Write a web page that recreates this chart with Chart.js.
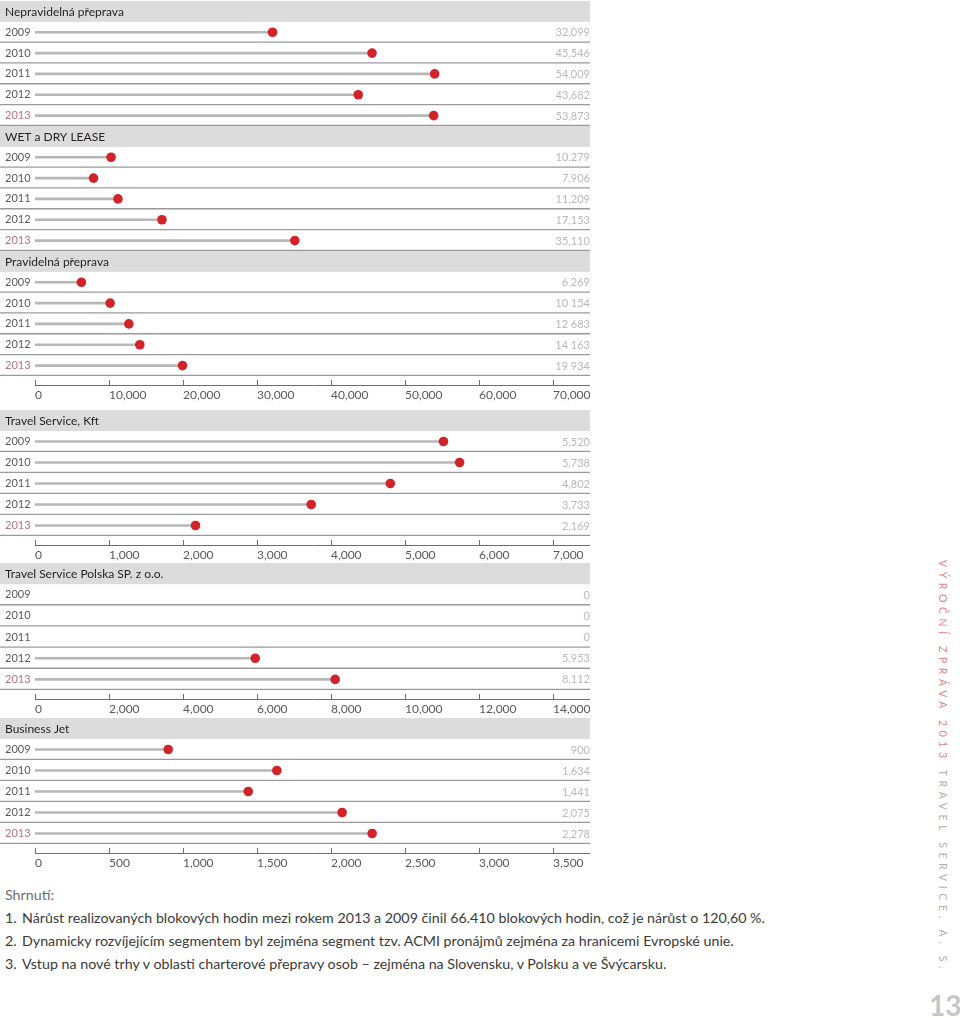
<!DOCTYPE html>
<html lang="cs">
<head>
<meta charset="UTF-8">
<title>Blokové hodiny 2009–2013</title>
<script src="https://cdn.jsdelivr.net/npm/chart.js"></script>
<style>
  body { margin: 0; background: #fff; font-family: Lato, "Open Sans", sans-serif; }
  #page { position: relative; width: 960px; height: 1018px; overflow: hidden; }
  .box { position: absolute; left: 0; width: 590px; }
  #summary { position: absolute; left: 5px; top: 883px; font-size: 14.25px; color: #3a3a3c; line-height: 23px; }
  #summary .head { color: #6d6e71; }
  #summary .num { display: inline-block; width: 17px; }
  #side { position: absolute; left: 937px; top: 560px; writing-mode: vertical-rl; font-size: 10.5px;
          letter-spacing: 4.6px; color: #b0b0b0; white-space: nowrap; }
  #side .red { color: #dc8589; }
  #pageno { position: absolute; left: 929px; top: 988px; font-size: 28px; font-weight: bold; color: #c6c6c6; }
</style>
</head>
<body>
<div id="page">
  <div class="box" style="top:1px"><canvas id="chartA" width="590" height="407"></canvas></div>
  <div class="box" style="top:410px"><canvas id="chartB" width="590" height="153"></canvas></div>
  <div class="box" style="top:563px"><canvas id="chartC" width="590" height="155"></canvas></div>
  <div class="box" style="top:718px"><canvas id="chartD" width="590" height="155"></canvas></div>

  <div id="summary">
    <div class="head">Shrnutí:</div>
    <div><span class="num">1.</span>Nárůst realizovaných blokových hodin mezi rokem 2013 a 2009 činil 66.410 blokových hodin, což je nárůst o 120,60 %.</div>
    <div><span class="num">2.</span>Dynamicky rozvíjejícím segmentem byl zejména segment tzv. ACMI pronájmů zejména za hranicemi Evropské unie.</div>
    <div><span class="num">3.</span>Vstup na nové trhy v oblasti charterové přepravy osob – zejména na Slovensku, v Polsku a ve Švýcarsku.</div>
  </div>
  <div id="side"><span class="red">VÝROČNÍ ZPRÁVA 2013</span> TRAVEL SERVICE, A. S.</div>
  <div id="pageno">13</div>
</div>

<script>
const years = ['2009', '2010', '2011', '2012', '2013'];

const nepravidelna = [32099, 45546, 54009, 43682, 53873];
const wetDry = [10279, 7906, 11209, 17153, 35110];
const pravidelna = [6269, 10154, 12683, 14163, 19934];
const kft = [5520, 5738, 4802, 3733, 2169];
const polska = [0, 0, 0, 5953, 8112];
const businessJet = [900, 1634, 1441, 2075, 2278];

function fmt(v, sep) {
  return v.toLocaleString('en-US').replace(/,/g, sep);
}

// gray header bands, row separators, section titles, value column and the bottom axis line
const rowsPlugin = {
  id: 'rows',
  beforeDraw(chart, args, opts) {
    const { ctx, chartArea, width } = chart;
    const y = chart.scales.y;
    const x = chart.scales.x;
    const h = y.getPixelForValue(1) - y.getPixelForValue(0);
    const line = (x1, y1, x2, y2) => { ctx.beginPath(); ctx.moveTo(x1, y1); ctx.lineTo(x2, y2); ctx.stroke(); };
    ctx.save();
    ctx.fillStyle = '#dcdcdd';
    opts.headers.forEach(i => {
      const c = y.getPixelForValue(i);
      ctx.fillRect(0, c - h / 2, width, h);
    });
    ctx.strokeStyle = '#9a9a9c';
    ctx.lineWidth = 1.3;
    y.ticks.forEach((t, i) => {
      if (opts.headers.includes(i)) return;
      const yy = y.getPixelForValue(i) + h / 2 - 0.6;
      line(0, yy, width, yy);
    });
    ctx.strokeStyle = '#6d6e71';
    ctx.lineWidth = 1;
    const base = Math.round(chartArea.bottom + 9) + 0.5;
    line(x.left, base, width, base);
    x.ticks.forEach(t => {
      const px = Math.round(x.getPixelForValue(t.value)) + 0.5;
      line(px, chartArea.bottom + 4, px, base);
    });

    ctx.textBaseline = 'middle';
    ctx.font = '12px Lato';
    ctx.fillStyle = '#231f20';
    ctx.textAlign = 'left';
    opts.headers.forEach(i => ctx.fillText(opts.labels[i], 5, y.getPixelForValue(i) + 0.5));
    ctx.font = '11px Lato';
    ctx.fillStyle = '#b9b9bb';
    ctx.textAlign = 'right';
    opts.valueLabels.forEach((v, i) => { if (v) ctx.fillText(v, width, y.getPixelForValue(i) + 0.5); });
    ctx.restore();
  }
};

function noPad(s) { s.paddingTop = 0; s.paddingBottom = 0; s.paddingLeft = 0; s.paddingRight = 0; }

function makeChart(id, sections, max, step, axisH) {
  const labels = [], plotted = [], valueLabels = [], headers = [];
  sections.forEach(s => {
    headers.push(labels.length);
    labels.push(s.title); plotted.push(null); valueLabels.push('');
    years.forEach((yr, i) => {
      labels.push(yr);
      plotted.push(s.values[i] === 0 ? null : s.values[i]);
      valueLabels.push(fmt(s.values[i], s.sep));
    });
  });

  new Chart(document.getElementById(id), {
    type: 'bar',
    data: {
      labels: labels,
      datasets: [
        {
          type: 'line', indexAxis: 'y', data: plotted, showLine: false,
          pointRadius: 4.8, pointHoverRadius: 4.8, pointBackgroundColor: '#d2232a',
          pointBorderWidth: 0, xAxisID: 'x', yAxisID: 'y', order: 0
        },
        {
          type: 'bar', indexAxis: 'y', data: plotted, barThickness: 2,
          backgroundColor: '#b7b7b7', borderWidth: 0, xAxisID: 'x', yAxisID: 'y', order: 1
        }
      ]
    },
    options: {
      indexAxis: 'y',
      responsive: false,
      animation: false,
      layout: { autoPadding: false, padding: { left: 5, right: 37, top: 0, bottom: 0 } },
      plugins: {
        legend: { display: false }, tooltip: { enabled: false },
        rows: { headers: headers, labels: labels, valueLabels: valueLabels }
      },
      scales: {
        x: {
          type: 'linear', min: 0, max: max, position: 'bottom',
          grid: { display: false, drawTicks: false }, border: { display: false },
          ticks: { stepSize: step, align: 'start', maxRotation: 0, padding: 12, color: '#58595b',
                   font: { family: 'Lato', size: 12 } },
          afterFit(s) { s.height = axisH; noPad(s); }
        },
        y: {
          type: 'category', position: 'left', offset: true,
          grid: { display: false, drawTicks: false }, border: { display: false },
          ticks: {
            autoSkip: false, crossAlign: 'far', padding: 0,
            callback: (v, i) => headers.includes(i) ? '' : labels[i],
            color: c => labels[c.index] === '2013' ? '#b9737a' : '#58595b',
            font: { family: 'Lato', size: 11 }
          },
          afterFit(s) { s.width = 30; noPad(s); }
        }
      }
    },
    plugins: [rowsPlugin]
  });
}

makeChart('chartA', [
  { title: 'Nepravidelná přeprava', values: nepravidelna, sep: ',' },
  { title: 'WET a DRY LEASE', values: wetDry, sep: ',' },
  { title: 'Pravidelná přeprava', values: pravidelna, sep: ' ' }
], 70000, 10000, 32);
makeChart('chartB', [{ title: 'Travel Service, Kft', values: kft, sep: ',' }], 7000, 1000, 27);
makeChart('chartC', [{ title: 'Travel Service Polska SP. z o.o.', values: polska, sep: ',' }], 14000, 2000, 28);
makeChart('chartD', [{ title: 'Business Jet', values: businessJet, sep: ',' }], 3500, 500, 29);
</script>
</body>
</html>
